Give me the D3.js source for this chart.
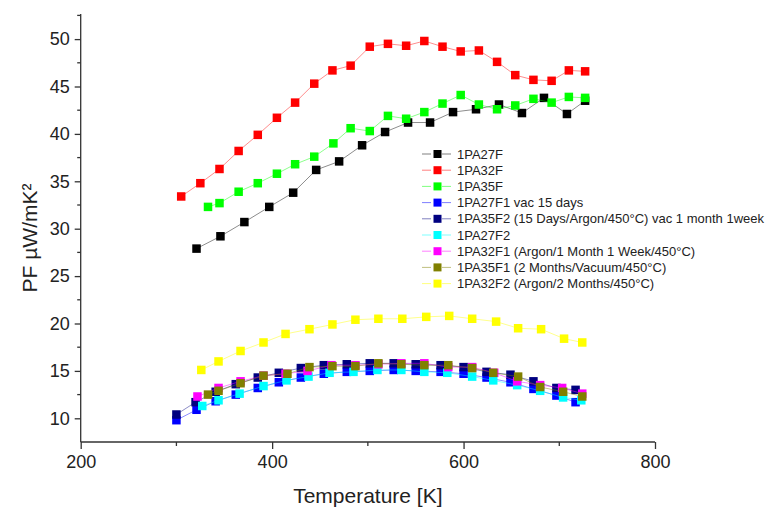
<!DOCTYPE html>
<html>
<head>
<meta charset="utf-8">
<script src="https://cdn.jsdelivr.net/npm/d3@7"></script>
<style>
  html, body { margin: 0; padding: 0; background: #fff; }
  svg { display: block; font-family: "Liberation Sans", Arial, sans-serif; }
</style>
</head>
<body>
<svg id="chart" width="766" height="508"></svg>
<script>
// Power factor vs. temperature for the film samples
const seriesNames = [
  "1PA27F",
  "1PA32F",
  "1PA35F",
  "1PA27F1 vac 15 days",
  "1PA35F2 (15 Days/Argon/450°C) vac 1 month 1week",
  "1PA27F2",
  "1PA32F1 (Argon/1 Month 1 Week/450°C)",
  "1PA35F1 (2 Months/Vacuum/450°C)",
  "1PA32F2 (Argon/2 Months/450°C)"
];
const seriesColors = ["#000000", "#ff0000", "#00ff00", "#0000ff", "#000080",
                      "#00ffff", "#ff00ff", "#808000", "#ffff00"];

const tempA27F = [321, 346, 371, 397, 422, 446, 470, 494, 518, 542, 565, 589, 613, 637, 661, 684, 708, 727];
const pfA27F   = [27.9, 29.2, 30.7, 32.3, 33.8, 36.2, 37.1, 38.8, 40.2, 41.2, 41.2, 42.3, 42.6, 43.1, 42.2, 43.8, 42.1, 43.5];

const tempA32F = [305, 325, 345, 365, 385, 405, 424, 444, 463, 482, 502, 521, 540, 559, 578, 597, 616, 635, 654, 673, 692, 710, 727];
const pfA32F   = [33.4, 34.8, 36.3, 38.2, 39.9, 41.7, 43.3, 45.3, 46.7, 47.2, 49.2, 49.5, 49.3, 49.8, 49.2, 48.7, 48.8, 47.6, 46.2, 45.7, 45.6, 46.7, 46.6];

const tempA35F = [333, 345, 365, 385, 405, 424, 444, 464, 482, 502, 521, 540, 559, 578, 597, 616, 635, 654, 673, 692, 710, 727];
const pfA35F   = [32.3, 32.7, 33.9, 34.8, 35.8, 36.8, 37.6, 39.0, 40.6, 40.3, 41.9, 41.6, 42.3, 43.2, 44.1, 43.1, 42.6, 43.0, 43.7, 43.3, 43.9, 43.8];

const tempA27F1 = [300, 321, 341, 362, 385, 407, 430, 454, 478, 502, 527, 550, 576, 600, 624, 649, 673, 697, 717];
const pfA27F1   = [9.8, 10.9, 11.8, 12.5, 13.2, 13.8, 14.3, 14.7, 14.9, 15.0, 15.1, 15.0, 14.9, 14.7, 14.3, 13.8, 13.1, 12.4, 11.7];

const tempA35F2 = [300, 320, 341, 362, 385, 407, 430, 454, 478, 502, 527, 550, 576, 600, 624, 649, 673, 697, 717];
const pfA35F2   = [10.4, 11.7, 12.8, 13.6, 14.3, 14.8, 15.3, 15.6, 15.7, 15.8, 15.8, 15.7, 15.6, 15.4, 14.9, 14.6, 13.9, 13.2, 13.0];

const tempA27F2 = [327, 344, 366, 391, 415, 438, 460, 485, 510, 535, 559, 583, 609, 631, 656, 680, 704, 723];
const pfA27F2   = [11.3, 11.9, 12.6, 13.4, 14.0, 14.4, 14.8, 14.9, 15.1, 15.1, 14.9, 14.8, 14.4, 14.0, 13.5, 12.9, 12.2, 11.9];

const tempA32F1 = [322, 344, 367, 391, 414, 437, 462, 487, 511, 535, 559, 584, 609, 632, 656, 680, 703, 724];
const pfA32F1   = [12.3, 13.2, 13.9, 14.5, 14.7, 15.0, 15.6, 15.6, 15.7, 15.8, 15.8, 15.4, 15.4, 14.8, 13.9, 13.5, 13.2, 12.6];

const tempA35F1 = [333, 344, 367, 391, 416, 439, 463, 487, 511, 535, 559, 584, 609, 631, 657, 680, 704, 724];
const pfA35F1   = [12.5, 12.9, 13.7, 14.5, 14.7, 15.4, 15.5, 15.5, 15.8, 15.7, 15.6, 15.6, 15.3, 14.8, 14.4, 13.3, 12.8, 12.3];

const tempA32F2 = [326, 344, 367, 391, 414, 439, 463, 487, 511, 536, 561, 585, 609, 634, 657, 681, 705, 724];
const pfA32F2   = [15.1, 16.0, 17.1, 18.0, 18.9, 19.4, 19.9, 20.4, 20.5, 20.5, 20.7, 20.8, 20.5, 20.2, 19.5, 19.4, 18.4, 18.0];

const xMajorTicks = [200, 400, 600, 800];
const xMinorTicks = [300, 500, 700];
const yMajorTicks = [10, 15, 20, 25, 30, 35, 40, 45, 50];
const yMinorTicks = [12.5, 17.5, 22.5, 27.5, 32.5, 37.5, 42.5, 47.5, 52.5];

const xLabel = "Temperature [K]";
const yLabel = "PF µW/mK²";

const seriesTemps = [tempA27F, tempA32F, tempA35F, tempA27F1, tempA35F2, tempA27F2, tempA32F1, tempA35F1, tempA32F2];
const seriesPF    = [pfA27F, pfA32F, pfA35F, pfA27F1, pfA35F2, pfA27F2, pfA32F1, pfA35F1, pfA32F2];

const series = seriesNames.map((name, i) => ({
  name,
  color: seriesColors[i],
  points: seriesTemps[i].map((t, j) => ({ t, v: seriesPF[i][j] }))
}));

const svg = d3.select("#chart");
const x = d3.scaleLinear().domain([200, 800]).range([80.7, 655]);
const y = d3.scaleLinear().domain([7.5, 52.5]).range([442, 15.4]);

const axisColor = "#333";
const textColor = "#222";

// Axes
const xAxisG = svg.append("g").attr("transform", `translate(0,${y(7.5)})`);
xAxisG.call(d3.axisBottom(x).tickValues(xMajorTicks).tickSize(7).tickPadding(6).tickFormat(d3.format("d")));
xAxisG.call(g => g.selectAll(".minor").data(xMinorTicks).enter().append("line")
  .attr("class", "minor").attr("x1", d => x(d)).attr("x2", d => x(d))
  .attr("y1", 0).attr("y2", 4).attr("stroke", axisColor).attr("stroke-width", 1.3));

const yAxisG = svg.append("g").attr("transform", `translate(${x(200)},0)`);
yAxisG.call(d3.axisLeft(y).tickValues(yMajorTicks).tickSize(6).tickPadding(5).tickFormat(d3.format("d")));
yAxisG.call(g => g.selectAll(".minor").data(yMinorTicks).enter().append("line")
  .attr("class", "minor").attr("y1", d => y(d)).attr("y2", d => y(d))
  .attr("x1", 0).attr("x2", -3.5).attr("stroke", axisColor).attr("stroke-width", 1.3));

[xAxisG, yAxisG].forEach(g => {
  g.select(".domain").attr("stroke", axisColor).attr("stroke-width", 1.3)
    .attr("d", g === xAxisG ? `M${x(200)},0H${x(800)}` : `M0,${y(7.5)}V${y(52.5) - 1.5}`);
  g.selectAll(".tick line").attr("stroke", axisColor).attr("stroke-width", 1.3);
  g.selectAll(".tick text").attr("fill", textColor).style("font-size", "18px")
    .style("font-family", "Liberation Sans, Arial, sans-serif");
});

// Axis titles
svg.append("text")
  .attr("x", (x(200) + x(800)) / 2).attr("y", 503)
  .attr("text-anchor", "middle").attr("fill", textColor)
  .style("font-size", "21px").text(xLabel);

svg.append("text")
  .attr("transform", `translate(37,238) rotate(-90)`)
  .attr("text-anchor", "middle").attr("fill", textColor)
  .style("font-size", "21px").text(yLabel);

// Series: thin connecting lines with square markers
const line = d3.line().x(d => x(d.t)).y(d => y(d.v));
const markerSize = 8.5;

series.forEach(s => {
  const g = svg.append("g");
  g.append("path").datum(s.points)
    .attr("d", line).attr("fill", "none")
    .attr("stroke", s.color).attr("stroke-opacity", 0.45).attr("stroke-width", 1);
  g.selectAll("rect").data(s.points).enter().append("rect")
    .attr("x", d => x(d.t) - markerSize / 2).attr("y", d => y(d.v) - markerSize / 2)
    .attr("width", markerSize).attr("height", markerSize)
    .attr("fill", s.color);
});

// Legend
const legend = svg.append("g").attr("transform", "translate(422,154)");
const rowH = 16.2;
series.forEach((s, i) => {
  const row = legend.append("g").attr("transform", `translate(0,${i * rowH})`);
  row.append("line").attr("x1", 0).attr("x2", 9).attr("y1", 0).attr("y2", 0)
    .attr("stroke", s.color).attr("stroke-opacity", 0.5).attr("stroke-width", 1);
  row.append("line").attr("x1", 20).attr("x2", 29).attr("y1", 0).attr("y2", 0)
    .attr("stroke", s.color).attr("stroke-opacity", 0.5).attr("stroke-width", 1);
  row.append("rect").attr("x", 11.5).attr("y", -4).attr("width", 8).attr("height", 8)
    .attr("fill", s.color);
  row.append("text").attr("x", 35).attr("y", 0).attr("dy", "0.36em")
    .attr("fill", textColor).style("font-size", "13px").text(s.name);
});
</script>
</body>
</html>
